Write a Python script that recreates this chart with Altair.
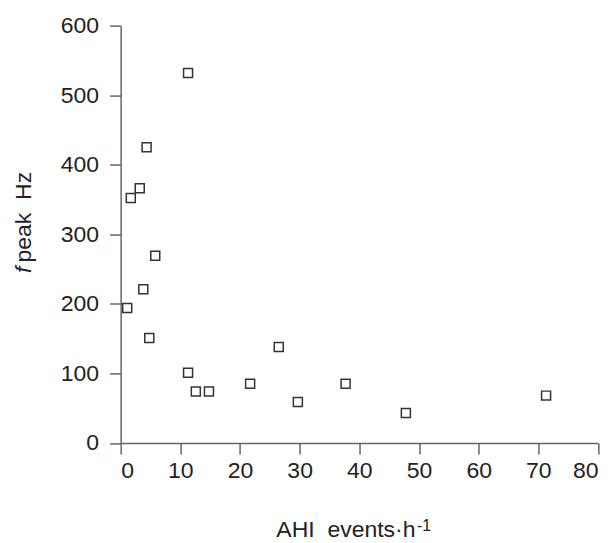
import altair as alt
import pandas as pd

ahi = [11.3, 4.35, 3.2, 1.7, 5.8, 3.8, 1.1, 4.8, 11.3, 12.6, 14.8, 21.7, 26.5, 29.7, 37.7, 47.8, 71.3]
fpeak = [532, 425, 366, 352, 269, 221, 194, 151, 101, 74, 74, 85, 138, 59, 85, 43, 68]

x_ticks = [0, 10, 20, 30, 40, 50, 60, 70, 80]
y_ticks = [0, 100, 200, 300, 400, 500, 600]

df = pd.DataFrame({"AHI": ahi, "fpeak": fpeak})

FONT = "Liberation Sans"
FS = 23
W, H = 477.6, 417.5
TXT = "#222222"

axis_common = dict(
    grid=False, domainColor="#666666", domainWidth=1.5, tickColor="#666666",
    tickWidth=1.5, tickSize=11, labelFont=FONT, labelFontSize=FS,
    labelColor=TXT, title=None,
)

points = alt.Chart(df).mark_point(
    shape="square", size=81, filled=False, stroke="#333333", strokeWidth=1.5, opacity=1
).encode(
    x=alt.X("AHI:Q", scale=alt.Scale(domain=[0, 80], nice=False, zero=True),
            axis=alt.Axis(values=x_ticks, labelPadding=6, **axis_common)),
    y=alt.Y("fpeak:Q", scale=alt.Scale(domain=[0, 600], nice=False),
            axis=alt.Axis(values=y_ticks, labelPadding=11, **axis_common)),
)

title_df = pd.DataFrame({"a": [0]})

ytitle_f = alt.Chart(title_df).mark_text(
    text="f", font=FONT, fontSize=FS, fontStyle="italic", angle=270,
    align="right", baseline="alphabetic", color=TXT
).encode(x=alt.value(-89.7), y=alt.value(241))

ytitle_rest = alt.Chart(title_df).mark_text(
    text="peak\u00a0\u00a0Hz", font=FONT, fontSize=FS, angle=270,
    align="left", baseline="alphabetic", color=TXT
).encode(x=alt.value(-89.7), y=alt.value(237))

xtitle_main = alt.Chart(title_df).mark_text(
    text="AHI\u00a0\u00a0events·h", font=FONT, fontSize=FS, align="right",
    baseline="alphabetic", color=TXT
).encode(x=alt.value(295), y=alt.value(511.5))

xtitle_sup = alt.Chart(title_df).mark_text(
    text="-1", font=FONT, fontSize=16, align="left",
    baseline="alphabetic", color=TXT
).encode(x=alt.value(296.5), y=alt.value(505.5))

chart = alt.layer(points, ytitle_f, ytitle_rest, xtitle_main, xtitle_sup).properties(
    width=W, height=H,
    autosize=alt.AutoSizeParams(type="none"),
    padding={"left": 112.7, "top": 17.5, "right": 7, "bottom": 100},
).configure_view(stroke=None)

chart.save("out.html", embed_options={"renderer": "svg", "actions": False})
